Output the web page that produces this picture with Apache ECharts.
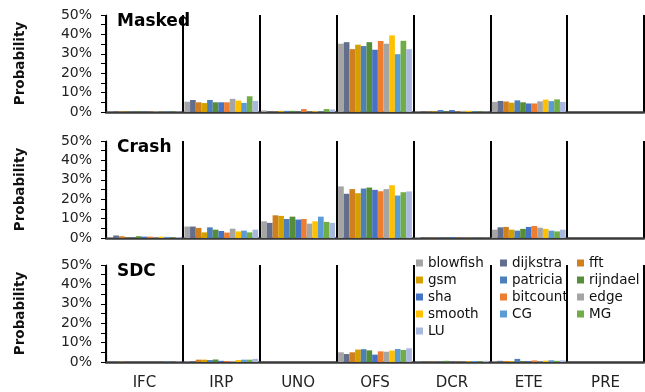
<!DOCTYPE html>
<html><head><meta charset="utf-8">
<script src="https://cdn.jsdelivr.net/npm/echarts@6/dist/echarts.min.js"></script>
<style>html,body{margin:0;padding:0;background:#fff}#c{width:645px;height:392px}</style>
</head><body><div id="c"></div>
<script>
const categories = ['IFC','IRP','UNO','OFS','DCR','ETE','PRE'];
const benchmarks = ['blowfish','dijkstra','fft','gsm','patricia','rijndael','sha','bitcount','edge','smooth','CG','MG','LU'];
const panelNames = ['Masked','Crash','SDC'];
const yTicks = [0,10,20,30,40,50];
// values per category, in benchmark order
const maskedIFC = [0.2,0.1,0.3,0.1,0.1,0.2,0.1,0.1,0.3,0.1,0.2,0.1,0.2];
const maskedIRP = [5.3,6.2,5.0,4.6,6.2,5.0,5.0,5.0,6.8,5.9,4.7,8.1,5.7];
const maskedUNO = [0.8,0.1,0.1,0.6,0.6,0.6,0.1,1.5,0.1,0.4,0.2,1.5,1.3];
const maskedOFS = [35.2,36.0,32.4,34.7,34.0,36.0,32.1,36.6,35.2,39.5,29.8,36.7,32.4];
const maskedDCR = [0.3,0.2,0.2,0.3,1.0,0.2,1.0,0.2,0.6,0.6,0.3,0.2,0.2];
const maskedETE = [5.2,5.7,5.4,4.8,6.0,5.0,4.4,4.4,5.5,6.4,5.6,6.5,5.2];
const maskedPRE = [0,0,0,0,0,0,0,0,0,0,0,0,0];
const crashIFC = [0.4,1.3,0.9,0.1,0.2,0.9,0.7,0.7,0.3,0.7,0.6,0.2,0.5];
const crashIRP = [5.9,5.9,5.2,2.9,5.5,4.3,3.6,2.8,4.8,3.4,3.8,2.9,4.3];
const crashUNO = [8.6,7.8,11.7,11.4,9.8,11.0,9.5,9.8,7.4,8.6,11.0,8.3,7.8];
const crashOFS = [26.6,22.8,25.2,23.1,25.5,26.0,24.8,24.1,25.2,27.2,21.9,23.6,24.0];
const crashDCR = [0.5,0.1,0.1,0.1,0.2,0.1,0.5,0.1,0.1,0.1,0.1,0.1,0.1];
const crashETE = [4.3,5.5,5.7,4.3,3.8,4.7,5.7,6.2,5.3,4.7,3.8,3.4,4.3];
const crashPRE = [0,0,0,0,0,0,0,0,0,0,0,0,0];
const sdcIFC = [0,0,0.2,0,0,0,0,0,0,0,0.2,0,0.2];
const sdcIRP = [0.3,0.4,1.2,1.2,1.0,1.3,0.6,0.5,0.5,1.0,1.2,1.2,1.6];
const sdcUNO = [0,0,0,0,0,0,0,0,0,0,0,0,0];
const sdcOFS = [5.0,4.1,5.0,6.4,6.6,6.0,3.8,5.5,5.3,5.9,6.7,6.2,7.1];
const sdcDCR = [0.2,0.1,0.1,0.1,0.1,0.6,0.1,0.1,0.1,0.3,0.5,0.3,0.6];
const sdcETE = [0.3,0.6,0.5,0.5,1.6,0.3,0.3,0.8,0.3,0.7,0.9,0.6,0.8];
const sdcPRE = [0,0,0,0,0,0,0,0,0,0,0,0,0];

const colors = ['#a5a5a5','#636e8c','#cf7f1e','#d4a000','#4d80ba','#568d38','#4472c4','#ed7d31','#a5a5a5','#ffc000','#5b9bd5','#70ad47','#a9b8de'];
const panels = [
  [maskedIFC,maskedIRP,maskedUNO,maskedOFS,maskedDCR,maskedETE,maskedPRE],
  [crashIFC,crashIRP,crashUNO,crashOFS,crashDCR,crashETE,crashPRE],
  [sdcIFC,sdcIRP,sdcUNO,sdcOFS,sdcDCR,sdcETE,sdcPRE]
];
const FONT = 'DejaVu Sans';
const tops = [15, 141, 265];
const grids = tops.map(t => ({left:106, right:1, top:t, height:97}));
const xAxes = tops.map((t,i) => ({
  type:'category', gridIndex:i, data:categories,
  axisTick:{show:false},
  axisLine:{lineStyle:{color:'#3a3a3a', width:2.5}},
  splitLine:{show:true, interval:0, lineStyle:{color:'#000', width:2}},
  axisLabel:{show:i===2, interval:0, fontFamily:FONT, fontSize:15, color:'#222', margin:14}
}));
const yAxes = tops.map((t,i) => ({
  type:'value', gridIndex:i, min:yTicks[0], max:yTicks[yTicks.length-1], interval:10,
  name:'Probability', nameLocation:'middle', nameGap:79,
  nameTextStyle:{fontFamily:FONT, fontSize:13.5, fontWeight:'bold', color:'#111'},
  axisLine:{show:true, lineStyle:{color:'#000', width:1.2}},
  axisTick:{show:true, length:5, lineStyle:{color:'#000'}},
  minorTick:{show:true, splitNumber:2, length:5, lineStyle:{color:'#000'}},
  splitLine:{show:false},
  axisLabel:{fontFamily:FONT, fontSize:14, color:'#222', margin:14, formatter:'{value}%'}
}));
const series = [];
panels.forEach((p,gi) => {
  benchmarks.forEach((b,bi) => {
    series.push({
      type:'bar', name:b, xAxisIndex:gi, yAxisIndex:gi,
      data: p.map(arr => arr[bi]),
      itemStyle:{color:colors[bi]},
      barGap:'0%', barCategoryGap:'4%',
      emphasis:{disabled:true}
    });
  });
});
const legendCols = [[0,3,6,9,12],[1,4,7,10],[2,5,8,11]];
const legendLefts = [411, 495, 572];
const legends = legendCols.map((col,i) => ({
  orient:'vertical', left:legendLefts[i], top:251,
  data: col.map(k => benchmarks[k]),
  itemWidth:7, itemHeight:7, itemGap:3, icon:'rect',
  textStyle:{fontFamily:FONT, fontSize:13.5, color:'#111'},
  selectedMode:false
}));
const titles = panelNames.map((n,i) => ({
  text:n, left:112, top:tops[i]-7,
  textStyle:{fontFamily:FONT, fontSize:17, fontWeight:'bold', color:'#000'}
}));
const chart = echarts.init(document.getElementById('c'), null, {renderer:'canvas'});
chart.setOption({
  animation:false, color:colors,
  title:titles, legend:legends,
  grid:grids, xAxis:xAxes, yAxis:yAxes, series:series
});
</script></body></html>
